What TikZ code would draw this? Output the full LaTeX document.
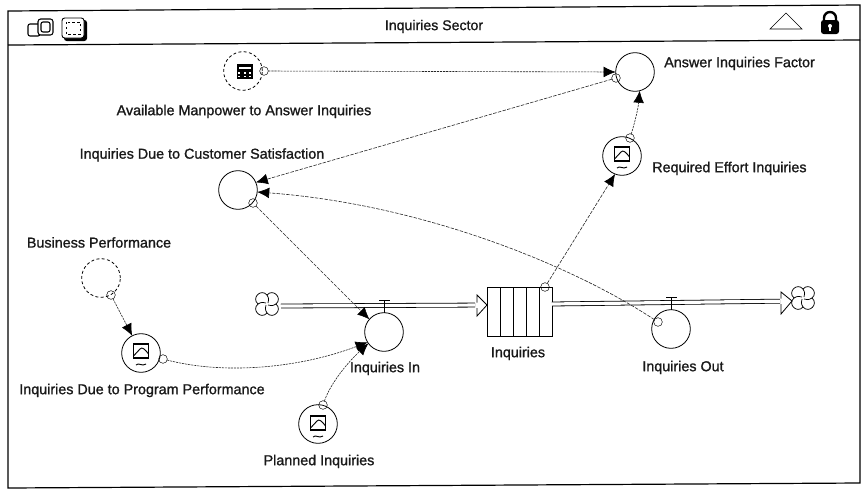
\documentclass[tikz,border=0pt]{standalone}
\usepackage{fontspec}
\setmainfont{Liberation Sans}
\newfontfamily\lblfont[FakeBold=1.2]{Liberation Sans}
\usetikzlibrary{arrows.meta}
\tikzset{
  var/.style={circle,draw,line width=.6pt,minimum size=29pt,inner sep=0pt,outer sep=0pt},
  ghost/.style={var,dashed,dash pattern=on 2.2pt off 1.8pt},
  ring/.style={circle,draw,line width=.35pt,minimum size=6.5pt,inner sep=0pt,outer sep=0pt},
  lbl/.style={font=\lblfont\fontsize{10.75pt}{12pt}\selectfont,inner sep=0pt,text=black!90,yshift=-1.1pt},
  link/.style={line width=.45pt,black!85,dash pattern=on 1.6pt off .7pt,-{Latex[length=9pt,width=8pt,black]}},
  dlink/.style={link,dash pattern=on 2.6pt off 1pt},
  flowline/.style={double,double distance=2.4pt,line width=.6pt},
  edge/.style={line width=.7pt},
  cloudnode/.style={circle,minimum size=18pt,inner sep=0pt,outer sep=0pt}
}
\newcommand{\grficon}[1]{%
  \begin{scope}[shift={(#1)}]
    \draw[line width=.8pt] (-7.5,-10) rectangle (7.5,4);
    \draw[line width=.7pt] (-7.5,2) -- (-1,-5) .. controls (1,-7) and (3,-6) .. (7.5,0);
    \draw[line width=.7pt] (-5,11) .. controls (-2,8) and (1,13) .. (5,10);
  \end{scope}}
\newcommand{\cloudicon}[1]{%
  \begin{scope}[shift={(#1)},line width=.55pt]
    \draw (0,-9) .. controls (6,-16) and (16,-6) .. (9,0)
       .. controls (16,6) and (6,16) .. (0,9)
       .. controls (-6,16) and (-16,6) .. (-9,0)
       .. controls (-16,-6) and (-6,-16) .. (0,-9);
    \draw (0,-9) .. controls (2,-6) and (2,-3) .. (1,-1);
    \draw (9,0) .. controls (6,2) and (3,2) .. (1,1);
    \draw (0,9) .. controls (-2,6) and (-2,3) .. (-1,1);
    \draw (-9,0) .. controls (-6,-2) and (-3,-2) .. (-1,-1);
  \end{scope}}
\begin{document}
\begin{tikzpicture}[x=.75pt,y=-.75pt]
\useasboundingbox (0,0) rectangle (862,489);
% window
\draw[line width=.9pt] (8,11) -- (860,5) -- (860,483) -- (8,488) -- cycle;
\draw[line width=.9pt] (8,45) -- (860,40);
\node[lbl,font=\lblfont\fontsize{10.6pt}{12pt}\selectfont] (title) at (434,25) {Inquiries Sector};
% header icons
\draw[line width=.8pt,rounded corners=1.5pt] (28,24) rectangle (40,36);
\draw[line width=.8pt,fill=white,rounded corners=2pt] (38,19) rectangle (53,35);
\draw[line width=.8pt,rounded corners=1.5pt] (41,22) rectangle (50,32);
\fill[black,rounded corners=2pt] (64,20) rectangle (87,41);
\draw[line width=.7pt,fill=white,rounded corners=2pt] (62,18) rectangle (84,38);
\draw[line width=.7pt,dash pattern=on 1.8pt off 1.8pt] (66,22) rectangle (80,34);
\draw[line width=.4pt] (770,29) -- (786,13) -- (802,29) -- cycle;
\draw[line width=1.8pt] (824,22) -- (824,18) arc[start angle=180,end angle=360,radius=6] -- (836,22);
\fill[black,rounded corners=2pt] (821,20) rectangle (839,34);
\fill[white] (830,26) circle[radius=2];
\fill[white] (829.2,26) rectangle (830.8,31);
% stock and sources
\node[draw,line width=.7pt,minimum width=48.75pt,minimum height=36.75pt,inner sep=0pt,outer sep=0pt] (stock) at (519.5,311.5) {};
\foreach \x in {500,513,526,539} \draw[line width=.6pt] (\x,287) -- (\x,336);
\node[cloudnode] (cloudL) at (267,304) {};
\node[cloudnode] (cloudR) at (803,298) {};
\cloudicon{267,304}
\cloudicon{803,298}
\coordinate (tipL) at (487,305);
\coordinate (tipR) at (792,301);
\coordinate (startL) at (281,306);
\coordinate (startR) at (552,304);
% variables
\node[ghost] (avail) at (243,71) {};
\node[var] (answer) at (635,72) {};
\node[var] (effort) at (622,156) {};
\node[var] (cust) at (238,190) {};
\node[ghost] (biz) at (101,278) {};
\node[var] (prog) at (141,353) {};
\node[var] (in) at (384,332) {};
\node[var] (planned) at (318,424) {};
\node[var] (out) at (671,329) {};
% flows
\draw[flowline,shorten >=9pt] (startL) -- (tipL);
\draw[flowline,shorten >=9pt] (startR) -- (tipR);
\draw[line width=.6pt] (477,302.5) -- (477,295) -- (tipL) -- (477,316) -- (477,308);
\draw[line width=.6pt] (781,298.5) -- (781,292) -- (tipR) -- (781,314) -- (781,304);
% valves
\node[inner sep=0pt] (barIn) at (384,300) {};
\node[inner sep=0pt] (barOut) at (671,297) {};
\draw[edge] (379,300) -- (390,300);
\draw[edge] (666,297) -- (677,297);
\draw[edge] (barIn) -- (in.north);
\draw[edge] (barOut) -- (out.north);
% rings
\node[ring] (rAvail) at (264,71) {};
\node[ring] (rAnswer) at (616,78) {};
\node[ring] (rEffort) at (630,138) {};
\node[ring] (rCust) at (253,203) {};
\node[ring] (rBiz) at (111,295) {};
\node[ring] (rProg) at (163,359) {};
\node[ring] (rPlanned) at (323,405) {};
\node[ring] (rStock) at (545,287) {};
\node[ring] (rOut) at (658,322) {};
% connectors
\draw[link] (rAvail) -- (answer.west);
\draw[dlink] (rAnswer) -- (cust.23);
\draw[dlink] (rOut) .. controls (570,264) and (420,204) .. (cust.-6);
\draw[dlink,line width=.35pt] (rCust) -- (in.139);
\draw[link] (rBiz) -- (prog.117);
\draw[link] (rProg) .. controls (225,375) and (300,368) .. (in.212);
\draw[link] (rPlanned) .. controls (330,385) and (345,365) .. (in.216);
\draw[dlink] (rStock) -- (effort.249);
\draw[link] (rEffort) .. controls (634,125) and (638,110) .. (answer.-76);
% icons
\grficon{622,157}
\grficon{141,354}
\grficon{318,426}
\fill[black] (237,64) rectangle (253,79);
\foreach \x in {239,244.5,250} {\fill[white] (\x-1,72) rectangle (\x+1,73.5); \fill[white] (\x-1,75.5) rectangle (\x+1,77);}
\fill[white] (239,66.5) rectangle (251,69);
% labels
\node[lbl] (lAvail) at (244,110) {Available Manpower to Answer Inquiries};
\node[lbl] (lCust) at (202,153.5) {Inquiries Due to Customer Satisfaction};
\node[lbl] (lBiz) at (99,241) {Business Performance};
\node[lbl,anchor=west] (lAnswer) at (664,62) {Answer Inquiries Factor};
\node[lbl,anchor=west] (lEffort) at (652,167) {Required Effort Inquiries};
\node[lbl] (lProg) at (142,389) {Inquiries Due to Program Performance};
\node[lbl] (lIn) at (385,367) {Inquiries In};
\node[lbl] (lPlanned) at (319,460) {Planned Inquiries};
\node[lbl] (lStock) at (518,352) {Inquiries};
\node[lbl] (lOut) at (683,366) {Inquiries Out};
\end{tikzpicture}
\end{document}
